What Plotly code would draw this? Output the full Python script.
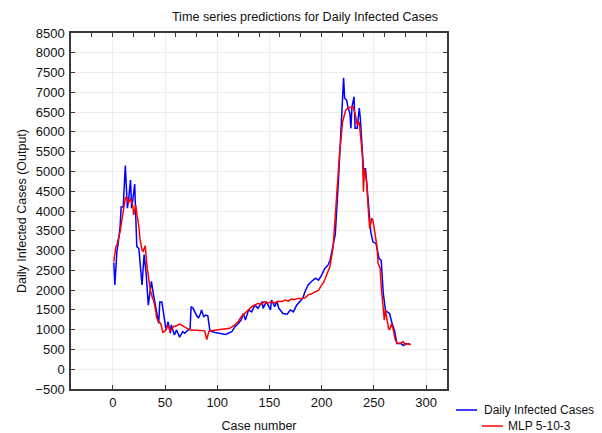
import plotly.graph_objects as go

# ---- data ----
case_blue = [1, 2, 4, 5, 7, 8, 10, 12, 14, 15, 17, 18, 19, 21, 22, 23, 25, 28, 30, 32, 34, 36, 37, 39, 40,
             42, 44, 45, 47, 49, 51, 53, 55, 56, 59, 61, 64, 67, 69, 72, 74, 75, 77, 80, 82, 84, 85, 87,
             89, 91, 93, 98, 104, 108, 114, 117, 120, 123, 125, 127, 130, 133, 136, 139, 143, 144, 147,
             151, 152, 155, 157, 159, 163, 167, 170, 173, 176, 179, 182, 184, 187, 190, 194, 197, 200,
             203, 206, 208, 209, 211, 213, 216, 218, 221, 222, 224, 225, 227, 228, 229, 231, 232, 234,
             235, 236, 237, 239, 240, 242, 243, 245, 246, 247, 249, 252, 255, 257, 259, 261, 262, 265,
             267, 270, 272, 276, 278, 279, 281, 285]
daily_infected = [2700, 2130, 3000, 3150, 3600, 4100, 4100, 5150, 4070, 4250, 4780, 4070, 4250, 4680, 3850,
                  3100, 3050, 2130, 2900, 2400, 1620, 2050, 2220, 1880, 1710,
                  1450, 1160, 1700, 1700, 1290, 990, 1200, 910, 1120, 865, 990, 810, 950, 910, 990, 1030,
                  1580, 1540, 1370, 1290, 1410, 1500, 1330,
                  1370, 1350, 970, 930, 900, 880, 950, 1075, 1150, 1245, 1410, 1245, 1500, 1450, 1620,
                  1540, 1710, 1540, 1710,
                  1500, 1750, 1580, 1710, 1540, 1410, 1390, 1500, 1450, 1620, 1710, 1800, 1960, 2130,
                  2210, 2300, 2250, 2380,
                  2550, 2630, 2750, 2900, 3150, 3400, 4740, 5800, 7370, 6850, 6800, 6640, 6470, 6090,
                  6630, 6890, 6090, 6090,
                  6350, 6600, 6350, 5600, 5070, 5070, 4780, 4200, 3900, 3480, 3220, 3180, 2800, 2750,
                  1920, 1500, 1460, 1410,
                  1200, 950, 650, 650, 600, 610, 650, 630]

case_red = [1, 3, 4, 7, 9, 10, 12, 13, 15, 17, 19, 20, 21, 22, 23, 25, 26, 28, 29, 31, 33, 35, 36, 38, 39,
            41, 42, 44, 46, 48, 50, 53, 55, 58, 61, 64, 67, 71, 74, 80, 88, 90, 92, 94, 100, 104, 112,
            117, 120, 123, 126, 130, 133, 136, 139, 142, 145, 148, 152, 155, 158, 162, 165, 168, 171,
            174, 177, 181, 184, 187, 190, 194, 197, 199, 202, 205, 208, 211, 214, 217, 220, 223, 225,
            228, 230, 232, 233, 234, 236, 237, 239, 240, 241, 243, 244, 245, 246, 248, 249, 251, 253,
            254, 256, 257, 259, 260, 261, 264, 265, 267, 269, 270, 272, 275, 278, 280, 283, 285]
mlp_5_10_3 = [2720, 3100, 3140, 3480, 3820, 4030, 4320, 4360, 4200, 4320, 4150, 3900, 4070, 4150, 3940,
              3600, 3300, 3010, 2980, 3120, 2550, 2130, 2000, 1800, 1750,
              1500, 1300, 1200, 1150, 930, 960, 1120, 950, 1080, 1100, 1140, 1100, 1030, 990, 985, 970,
              750, 950, 970, 990, 990, 1035,
              1120, 1200, 1330, 1410, 1500, 1580, 1620, 1665, 1640, 1710, 1665, 1710, 1670, 1720, 1710,
              1750, 1720, 1775,
              1760, 1790, 1790, 1800, 1880, 1900, 1960, 1990, 2090, 2200, 2400, 2600, 3100, 4320, 5400,
              6250, 6550, 6600,
              6620, 6640, 6470, 6340, 6180, 6250, 6000, 5400, 4490, 5070, 4740, 4150, 3900, 3550, 3820,
              3770, 3430, 3100,
              2680, 2550, 2090, 1580, 1240, 1500, 1030, 1000, 1160, 950, 780, 665, 650, 700, 620, 650, 610]

series_names = ["Daily Infected Cases", "MLP 5-10-3"]
series_colors = ["#0000ff", "#ff0000"]
x_ticks = [0, 50, 100, 150, 200, 250, 300]
y_ticks = list(range(-500, 8501, 500))

FONT = "Liberation Sans, Arial, sans-serif"
AX = "#3a3a3a"
GRID = "#ededed"
W, H = 602, 433
ML, MR, MT, MB = 71, 155, 33, 44
PW, PH = W - ML - MR, H - MT - MB


def px2paper(px, py):
    return (px - ML) / PW, (H - MB - py) / PH


fig = go.Figure()
fig.add_trace(go.Scatter(x=case_blue, y=daily_infected, mode="lines", name=series_names[0],
                         line=dict(color=series_colors[0], width=1.5)))
fig.add_trace(go.Scatter(x=case_red, y=mlp_5_10_3, mode="lines", name=series_names[1],
                         line=dict(color=series_colors[1], width=1.5)))
# helper trace so the mirrored top / right axes are drawn
fig.add_trace(go.Scatter(x=[None], y=[None], xaxis="x2", yaxis="y2", showlegend=False,
                         hoverinfo="skip"))

# staggered legend (drawn as in the reference)
legend_rows = [(456, 477, 482, 410), (482, 503, 506, 426)]
for (x0, x1, xt, yy), name, col in zip(legend_rows, series_names, series_colors):
    a0, b0 = px2paper(x0, yy)
    a1, _ = px2paper(x1, yy)
    at, _ = px2paper(xt, yy)
    fig.add_shape(type="line", xref="paper", yref="paper", x0=a0, x1=a1, y0=b0, y1=b0,
                  line=dict(color=col, width=1.5))
    fig.add_annotation(text=name, xref="paper", yref="paper", x=at, y=b0, xanchor="left",
                       yanchor="middle", showarrow=False, font=dict(size=12, color="#111"))

fig.update_layout(
    width=W, height=H,
    margin=dict(l=ML, r=MR, t=MT, b=MB),
    paper_bgcolor="white", plot_bgcolor="white",
    font=dict(family=FONT, size=12, color="#111"),
    showlegend=False,
    title=dict(text="Time series predictions for Daily Infected Cases", x=(305 - ML) / PW,
               xref="paper", xanchor="center", y=1 - 17 / H, yref="container", yanchor="middle",
               font=dict(size=12.6, color="#111")),
    xaxis=dict(range=[-40, 320], tickvals=x_ticks, ticks="inside", ticklen=4, tickcolor=AX,
               showline=True, linecolor=AX, linewidth=1.5, showgrid=True, gridcolor=GRID,
               zeroline=False, tickfont=dict(size=13), ticklabelstandoff=1, automargin=False,
               title=dict(text="Case number", font=dict(size=12.5), standoff=13)),
    xaxis2=dict(range=[-40, 320], overlaying="x", side="top", tick0=0, dtick=20, ticks="inside",
                ticklen=4, tickcolor=AX, showline=True, linecolor=AX, linewidth=1.5,
                showgrid=False, zeroline=False, showticklabels=False, automargin=False),
    yaxis=dict(range=[-500, 8500], tickvals=y_ticks, ticks="inside", ticklen=4, tickcolor=AX,
               showline=True, linecolor=AX, linewidth=1.5, showgrid=True, gridcolor=GRID,
               zeroline=False, tickfont=dict(size=13), ticklabelstandoff=2, automargin=False,
               title=dict(text="Daily Infected Cases (Output)", font=dict(size=12.5), standoff=6)),
    yaxis2=dict(range=[-500, 8500], overlaying="y", side="right", tickvals=y_ticks, ticks="inside",
                ticklen=4, tickcolor=AX, showline=True, linecolor=AX, linewidth=1.5,
                showgrid=False, zeroline=False, showticklabels=False, automargin=False),
)

fig.write_html("out.html")
